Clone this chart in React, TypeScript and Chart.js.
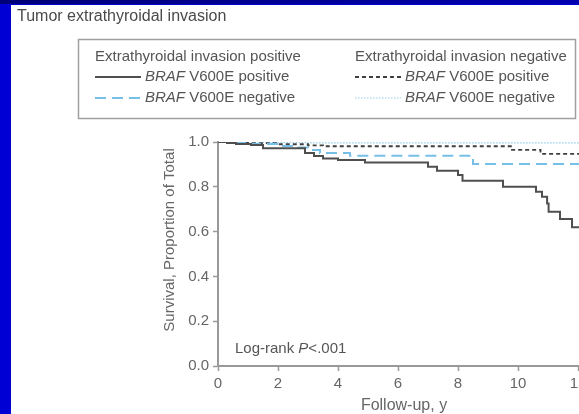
import React, { useEffect, useRef } from "react";
import { Chart, registerables } from "chart.js";

Chart.register(...registerables);

const FONT = "'Liberation Sans', Arial, Helvetica, sans-serif";

const chartTitle = "Tumor extrathyroidal invasion";
const groupHeaders = ["Extrathyroidal invasion positive", "Extrathyroidal invasion negative"];
const geneLabel = "BRAF";
const statusLabels = [" V600E positive", " V600E negative", " V600E positive", " V600E negative"];
const yAxisTitle = "Survival, Proportion of Total";
const xAxisTitle = "Follow-up, y";
const logRankPrefix = "Log-rank ";
const logRankP = "P";
const logRankSuffix = "<.001";

const xTickStep = 2;
const yTickStep = 0.2;

// Extrathyroidal invasion positive, BRAF V600E positive
const timePosPos = [0, 0.3, 0.6, 1.1, 1.5, 2.9, 3.2, 3.5, 4.0, 4.9, 7.0, 7.3, 8.0, 8.15, 9.5, 10.6, 10.8, 10.97, 11.02, 11.4, 11.8, 12.4];
const survPosPos = [1.0, 0.996, 0.991, 0.987, 0.972, 0.951, 0.938, 0.926, 0.92, 0.908, 0.89, 0.872, 0.853, 0.827, 0.8, 0.778, 0.756, 0.726, 0.689, 0.656, 0.619, 0.619];

// Extrathyroidal invasion positive, BRAF V600E negative
const timePosNeg = [0, 1.0, 2.0, 2.5, 3.0, 3.4, 4.4, 8.5, 12.4];
const survPosNeg = [1.0, 0.991, 0.982, 0.975, 0.964, 0.951, 0.939, 0.902, 0.902];

// Extrathyroidal invasion negative, BRAF V600E positive
const timeNegPos = [0, 1.0, 2.0, 3.0, 3.5, 9.8, 10.75, 12.4];
const survNegPos = [1.0, 0.995, 0.99, 0.985, 0.981, 0.965, 0.947, 0.947];

// Extrathyroidal invasion negative, BRAF V600E negative
const timeNegNeg = [0, 1.5, 3.0, 12.4];
const survNegNeg = [1.0, 0.998, 0.996, 0.996];

const toPoints = (t: number[], s: number[]) => t.map((x, i) => ({ x, y: s[i] }));

const annotate = {
  id: "annotate",
  afterDraw(chart: any) {
    const ctx: CanvasRenderingContext2D = chart.ctx;
    const area = chart.chartArea;
    const ds = chart.data.datasets;
    ctx.save();
    ctx.textBaseline = "middle";
    ctx.textAlign = "left";

    // Title
    ctx.fillStyle = "#4a4a4a";
    ctx.font = `16px ${FONT}`;
    ctx.fillText(chartTitle, 17, 17);

    // Legend box
    ctx.strokeStyle = "#a0a0a0";
    ctx.lineWidth = 1.5;
    ctx.strokeRect(78.5, 39.5, 497, 79);

    const cols = [95, 355];
    const rows = [77, 98];
    cols.forEach((x0, c) => {
      ctx.font = `15px ${FONT}`;
      ctx.fillStyle = "#555";
      ctx.fillText(groupHeaders[c], x0, 57);
      rows.forEach((y, r) => {
        const idx = c * 2 + r;
        const d = ds[idx];
        ctx.save();
        ctx.strokeStyle = d.borderColor;
        ctx.lineWidth = d.borderWidth;
        ctx.setLineDash(d.borderDash || []);
        ctx.beginPath();
        ctx.moveTo(x0, y);
        ctx.lineTo(x0 + 46, y);
        ctx.stroke();
        ctx.restore();
        ctx.fillStyle = "#555";
        ctx.font = `italic 15px ${FONT}`;
        ctx.fillText(geneLabel, x0 + 50, y);
        const w = ctx.measureText(geneLabel).width;
        ctx.font = `15px ${FONT}`;
        ctx.fillText(statusLabels[idx], x0 + 50 + w, y);
      });
    });

    // Log-rank
    ctx.fillStyle = "#555";
    ctx.font = `15px ${FONT}`;
    let lx = area.left + 17;
    const ly = 349;
    ctx.fillText(logRankPrefix, lx, ly);
    lx += ctx.measureText(logRankPrefix).width;
    ctx.font = `italic 15px ${FONT}`;
    ctx.fillText(logRankP, lx, ly);
    lx += ctx.measureText(logRankP).width;
    ctx.font = `15px ${FONT}`;
    ctx.fillText(logRankSuffix, lx, ly);

    // Axis titles
    ctx.fillStyle = "#666";
    ctx.font = `15px ${FONT}`;
    ctx.textAlign = "center";
    ctx.save();
    ctx.translate(170, 240);
    ctx.rotate(-Math.PI / 2);
    ctx.fillText(yAxisTitle, 0, 0);
    ctx.restore();
    ctx.font = `16px ${FONT}`;
    ctx.fillText(xAxisTitle, 404, 406);

    ctx.restore();
  },
};

export default function App() {
  const ref = useRef<HTMLCanvasElement | null>(null);

  useEffect(() => {
    if (!ref.current) return;
    const chart = new Chart(ref.current, {
      type: "line",
      data: {
        datasets: [
          {
            label: "ETE+ BRAF+",
            data: toPoints(timePosPos, survPosPos),
            borderColor: "#4f4f4f",
            borderWidth: 2,
            borderDash: [],
            stepped: true,
            pointRadius: 0,
            fill: false,
          },
          {
            label: "ETE+ BRAF-",
            data: toPoints(timePosNeg, survPosNeg),
            borderColor: "#76bfe6",
            borderWidth: 2,
            borderDash: [11, 6],
            stepped: true,
            pointRadius: 0,
            fill: false,
          },
          {
            label: "ETE- BRAF+",
            data: toPoints(timeNegPos, survNegPos),
            borderColor: "#404040",
            borderWidth: 1.8,
            borderDash: [4, 3],
            stepped: true,
            pointRadius: 0,
            fill: false,
          },
          {
            label: "ETE- BRAF-",
            data: toPoints(timeNegNeg, survNegNeg),
            borderColor: "#92cdee",
            borderWidth: 1.2,
            borderDash: [1.5, 1.5],
            stepped: true,
            pointRadius: 0,
            fill: false,
          },
        ],
      },
      options: {
        animation: false,
        responsive: false,
        devicePixelRatio: 1,
        layout: { padding: { top: 142, right: 50, bottom: 0, left: 0 } },
        plugins: { legend: { display: false }, tooltip: { enabled: false }, title: { display: false } },
        scales: {
          x: {
            type: "linear",
            min: 0,
            max: 12.4,
            ticks: {
              stepSize: xTickStep,
              includeBounds: false,
              color: "#666",
              font: { family: FONT, size: 15 },
              padding: 4,
              maxRotation: 0,
              autoSkip: false,
              callback: (v: any) => String(v),
            },
            grid: { drawOnChartArea: false, drawTicks: true, tickLength: 5, tickColor: "#999", tickWidth: 1.5 },
            border: { display: true, color: "#999", width: 2 },
            afterFit: (s: any) => {
              s.height = 48;
            },
          },
          y: {
            type: "linear",
            min: 0,
            max: 1,
            ticks: {
              stepSize: yTickStep,
              color: "#666",
              font: { family: FONT, size: 15 },
              padding: 4,
              callback: (v: any) => Number(v).toFixed(1),
            },
            grid: { drawOnChartArea: false, drawTicks: true, tickLength: 5, tickColor: "#999", tickWidth: 1.5 },
            border: { display: true, color: "#999", width: 2 },
            afterFit: (s: any) => {
              s.width = 218;
            },
          },
        },
      },
      plugins: [annotate],
    } as any);
    return () => chart.destroy();
  }, []);

  return (
    <div style={{ position: "fixed", left: 0, top: 0, width: 579, height: 414, overflow: "hidden", background: "#0000d4" }}>
      <div style={{ position: "absolute", left: 0, top: 0, width: 579, height: 4, background: "linear-gradient(90deg,#000078,#0000b0)" }} />
      <div style={{ position: "absolute", left: 11, top: 5, width: 568, height: 409, background: "#ffffff" }} />
      <canvas ref={ref} width={640} height={414} style={{ position: "absolute", left: 0, top: 0, width: 640, height: 414 }} />
    </div>
  );
}
